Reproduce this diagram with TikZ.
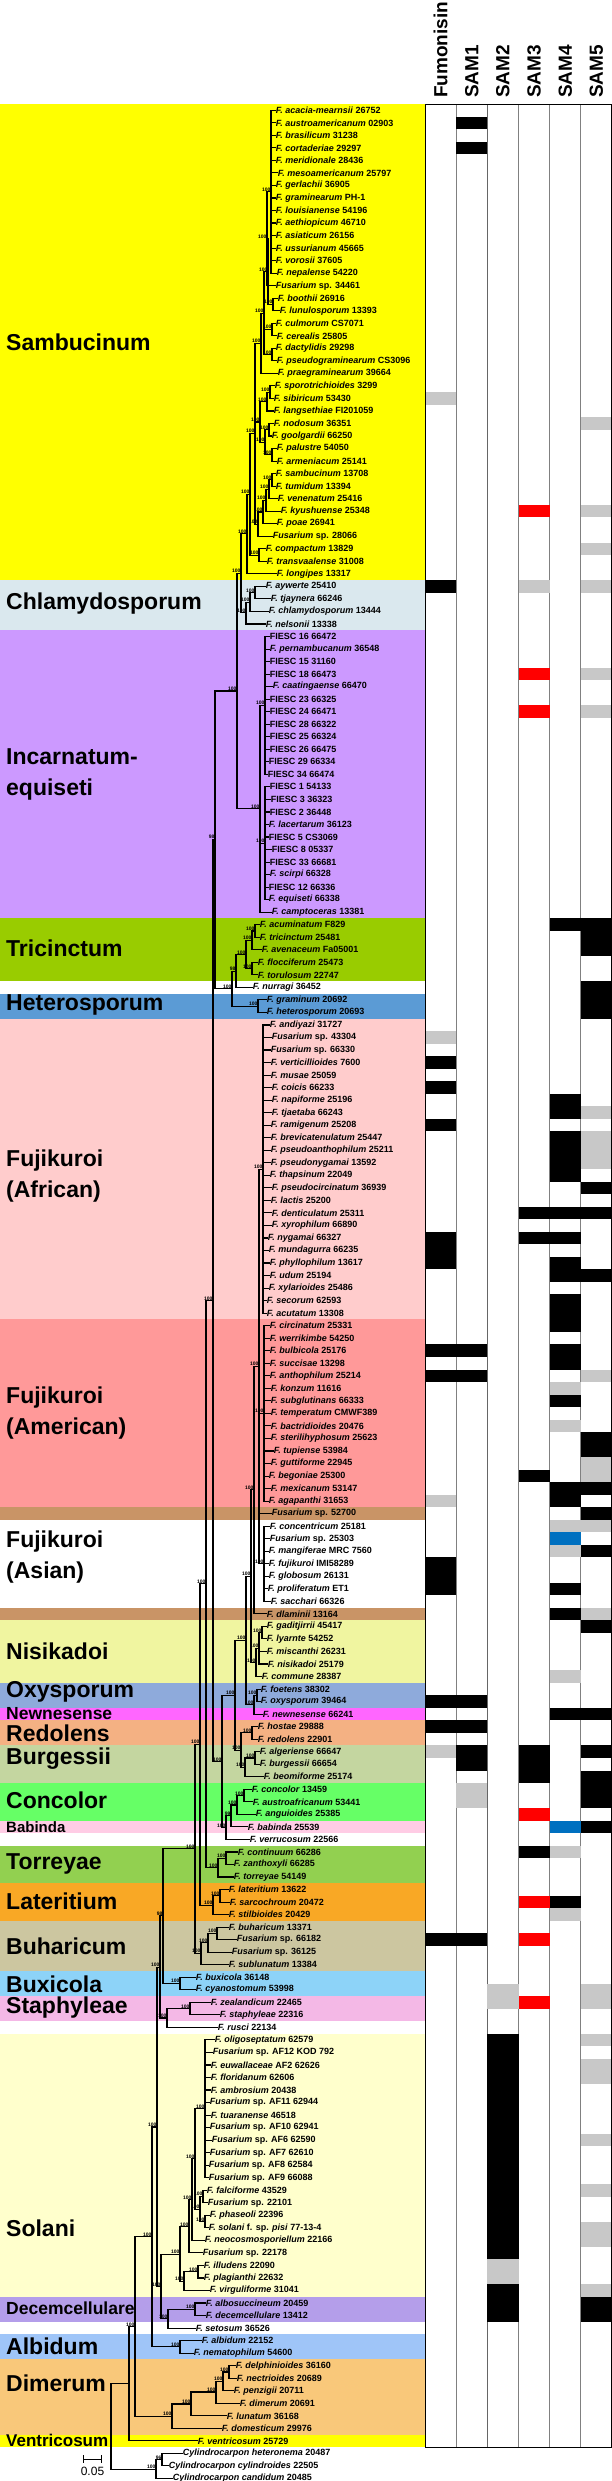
\documentclass[tikz,border=0pt]{standalone}
\usepackage{fontspec}
\setmainfont{Liberation Sans}
\usetikzlibrary{calc}

% clade band colours
\definecolor{samb}{HTML}{FFFF00}
\definecolor{chla}{HTML}{DAE8EE}
\definecolor{inca}{HTML}{CC99FF}
\definecolor{tric}{HTML}{99CC00}
\definecolor{hete}{HTML}{5B9BD5}
\definecolor{afri}{HTML}{FFCCCC}
\definecolor{amer}{HTML}{FF9999}
\definecolor{brwn}{HTML}{C99466}
\definecolor{nisi}{HTML}{F0F5A0}
\definecolor{oxys}{HTML}{8EAADB}
\definecolor{newn}{HTML}{FF66FF}
\definecolor{redo}{HTML}{F4B183}
\definecolor{burg}{HTML}{C4D6A0}
\definecolor{conc}{HTML}{66FF66}
\definecolor{babi}{HTML}{FFCCE5}
\definecolor{torr}{HTML}{92D050}
\definecolor{late}{HTML}{F9A825}
\definecolor{buha}{HTML}{CCC6A0}
\definecolor{buxi}{HTML}{8DD3F8}
\definecolor{stap}{HTML}{F4B8E6}
\definecolor{sola}{HTML}{FFFFCC}
\definecolor{dece}{HTML}{B49EEA}
\definecolor{albi}{HTML}{9FC5F8}
\definecolor{dime}{HTML}{F9C87A}
\definecolor{vent}{HTML}{FFFF00}
% matrix cell colours
\definecolor{gcell}{HTML}{C8C8C8}
\definecolor{rcell}{HTML}{FF0000}
\definecolor{bcell}{HTML}{0070C0}

\newcommand\F[1]{\textit{F. #1}}
\newcommand\Fsp{\textit{Fusarium} sp.}
\newcommand\Cy[1]{\textit{Cylindrocarpon #1}}
% internal node: name, x, row, support
\newcommand\inode[4]{%
  \coordinate (#1) at (#2,{-97.735-12.53*(#3)});
  \node[bs] (#1s) at (#1) {#4};}
\newcommand\kids[2]{\foreach \ch in {#2} \draw[br] (#1) |- (\ch);}
\newcommand\tcomb[3]{\foreach \ch in {#2,...,#3} \draw[br] (#1) |- (t\ch.west);}

\begin{document}
\begin{tikzpicture}[x=1pt,y=1pt,
    br/.style={line width=1.1pt, line cap=rect},
    leaf/.style={anchor=west, inner sep=0.6pt,
      font=\fontsize{9}{10}\selectfont\bfseries},
    bs/.style={anchor=south east, inner sep=0.3pt,
      font=\fontsize{5}{5}\selectfont\bfseries},
    clab/.style={anchor=west, inner sep=0pt, align=left,
      font=\fontsize{23}{31}\selectfont\bfseries},
    hdr/.style={rotate=90, anchor=west, inner sep=0pt,
      font=\fontsize{19}{19}\selectfont\bfseries}]
  \useasboundingbox (0,0) rectangle (612,-2481);
  \fill[white] (0,0) rectangle (612,-2481);

  % clade bands
  \foreach \s/\e/\k in {1/38/samb, 39/42/chla, 43/65/inca, 66/70/tric,
      72/73/hete, 74/97/afri, 98/112/amer, 113/113/brwn, 121/121/brwn,
      122/126/nisi, 127/128/oxys, 129/129/newn, 130/131/redo,
      132/134/burg, 135/137/conc, 138/138/babi, 140/142/torr,
      143/145/late, 146/149/buha, 150/151/buxi, 152/153/stap,
      155/175/sola, 176/177/dece, 179/180/albi, 181/186/dime, 187/187/vent}
    \fill[\k] (0,{-104-(\s-1)*12.53}) rectangle (425,{-104-\e*12.53});

  % matrix grid
  \foreach \i in {1,...,5}
    \draw[gray, line width=0.8pt] ({425+\i*31.17},-104) -- ({425+\i*31.17},-2447);
  \draw[gray!80!black, line width=1.2pt] ({425+2*31.17},-104) -- ({425+2*31.17},-2447);

  % matrix cells: first row / last row / column / colour
  \foreach \a/\b/\c/\k in {2/2/1/black, 4/4/1/black,
      24/24/0/gcell, 26/26/5/gcell, 33/33/3/rcell, 33/33/5/gcell, 36/36/5/gcell,
      39/39/0/black, 39/39/3/gcell, 39/39/5/gcell,
      46/46/3/rcell, 46/46/5/gcell, 49/49/3/rcell, 49/49/5/gcell,
      66/66/4/black, 66/68/5/black, 71/73/5/black,
      75/75/0/gcell, 77/77/0/black, 79/79/0/black, 80/81/4/black, 81/81/5/gcell,
      82/82/0/black, 83/86/4/black, 83/85/5/gcell, 87/87/5/black,
      89/89/3/black, 89/89/4/black, 89/89/5/black,
      91/93/0/black, 91/91/3/black, 91/91/4/black, 93/94/4/black, 94/94/5/black,
      96/98/4/black, 100/100/0/black, 100/100/1/black, 100/101/4/black,
      102/102/0/black, 102/102/1/black, 102/102/5/gcell,
      103/103/4/gcell, 104/104/4/black, 106/106/4/gcell, 107/108/5/black,
      109/110/5/gcell, 110/110/3/black, 111/112/4/black, 111/111/5/black,
      112/112/0/gcell, 113/113/5/black, 114/114/4/gcell, 114/114/5/gcell,
      115/115/4/bcell, 116/116/4/gcell, 116/116/5/black, 117/119/0/black,
      119/119/4/black, 121/121/4/black, 121/121/5/gcell, 122/122/5/black,
      126/126/4/gcell, 128/128/0/black, 128/128/1/black, 129/129/4/black,
      129/129/5/black, 130/130/0/black, 130/130/1/black, 132/132/0/gcell,
      132/133/1/black, 132/134/3/black, 132/132/5/black, 134/136/5/black,
      135/136/1/gcell, 137/137/3/rcell, 138/138/4/bcell, 138/138/5/black,
      140/140/3/black, 140/140/4/gcell, 144/144/3/rcell, 144/144/4/black,
      145/145/4/gcell, 147/147/0/black, 147/147/1/black, 147/147/3/rcell,
      151/152/2/gcell, 151/152/5/gcell, 152/152/3/rcell,
      155/172/2/black, 155/155/5/gcell, 157/158/5/gcell, 163/163/5/gcell,
      167/167/5/gcell, 170/171/5/gcell, 173/174/2/gcell, 175/177/2/black,
      175/175/5/gcell, 176/177/5/black}
    \fill[\k] ({425+\c*31.17},{-104-(\a-1)*12.53})
      rectangle ({425+(\c+1)*31.17},{-104-\b*12.53});
  \draw[line width=1pt] (425,-104) rectangle (611.5,-2447);

  % column headers
  \foreach \n [count=\i from 0] in {Fumonisin,SAM1,SAM2,SAM3,SAM4,SAM5}
    \node[hdr] (h\i) at ({425+(\i+0.5)*31.17},-98) {\n};

  % taxa: tip x / label
  \foreach \x/\t [count=\r] in {
      275/{\F{acacia-mearnsii} 26752}, 275/{\F{austroamericanum} 02903},
      275/{\F{brasilicum} 31238}, 275/{\F{cortaderiae} 29297},
      275/{\F{meridionale} 28436}, 277/{\F{mesoamericanum} 25797},
      275/{\F{gerlachii} 36905}, 275/{\F{graminearum} PH-1},
      275/{\F{louisianense} 54196}, 275/{\F{aethiopicum} 46710},
      275/{\F{asiaticum} 26156}, 275/{\F{ussurianum} 45665},
      275/{\F{vorosii} 37605}, 276/{\F{nepalense} 54220},
      275/{\Fsp{} 34461}, 277/{\F{boothii} 26916},
      279/{\F{lunulosporum} 13393}, 275/{\F{culmorum} CS7071},
      276/{\F{cerealis} 25805}, 275/{\F{dactylidis} 29298},
      276/{\F{pseudograminearum} CS3096}, 277/{\F{praegraminearum} 39664},
      274/{\F{sporotrichioides} 3299}, 273/{\F{sibiricum} 53430},
      273/{\F{langsethiae} FI201059}, 273/{\F{nodosum} 36351},
      271/{\F{goolgardii} 66250}, 276/{\F{palustre} 54050},
      276/{\F{armeniacum} 25141}, 275/{\F{sambucinum} 13708},
      275/{\F{tumidum} 13394}, 277/{\F{venenatum} 25416},
      280/{\F{kyushuense} 25348}, 276/{\F{poae} 26941},
      272/{\Fsp{} 28066}, 265/{\F{compactum} 13829},
      266/{\F{transvaalense} 31008}, 276/{\F{longipes} 13317},
      265/{\F{aywerte} 25410}, 270/{\F{tjaynera} 66246},
      268/{\F{chlamydosporum} 13444}, 265/{\F{nelsonii} 13338},
      269/{FIESC 16 66472}, 269/{\F{pernambucanum} 36548},
      269/{FIESC 15 31160}, 269/{FIESC 18 66473},
      272/{\F{caatingaense} 66470}, 269/{FIESC 23 66325},
      269/{FIESC 24 66471}, 269/{FIESC 28 66322},
      269/{FIESC 25 66324}, 269/{FIESC 26 66475},
      268/{FIESC 29 66334}, 267/{FIESC 34 66474},
      269/{FIESC 1 54133}, 270/{FIESC 3 36323},
      269/{FIESC 2 36448}, 268/{\F{lacertarum} 36123},
      268/{FIESC 5 CS3069}, 271/{FIESC 8 05337},
      269/{FIESC 33 66681}, 269/{\F{scirpi} 66328},
      268/{FIESC 12 66336}, 268/{\F{equiseti} 66338},
      271/{\F{camptoceras} 13381}, 259/{\F{acuminatum} F829},
      259/{\F{tricinctum} 25481}, 261/{\F{avenaceum} Fa05001},
      257/{\F{flocciferum} 25473}, 257/{\F{torulosum} 22747},
      252/{\F{nurragi} 36452}, 266/{\F{graminum} 20692},
      266/{\F{heterosporum} 20693}, 269/{\F{andiyazi} 31727},
      271/{\Fsp{} 43304}, 270/{\Fsp{} 66330},
      270/{\F{verticillioides} 7600}, 270/{\F{musae} 25059},
      271/{\F{coicis} 66233}, 271/{\F{napiforme} 25196},
      271/{\F{tjaetaba} 66243}, 270/{\F{ramigenum} 25208},
      270/{\F{brevicatenulatum} 25447}, 270/{\F{pseudoanthophilum} 25211},
      270/{\F{pseudonygamai} 13592}, 269/{\F{thapsinum} 22049},
      271/{\F{pseudocircinatum} 36939}, 270/{\F{lactis} 25200},
      271/{\F{denticulatum} 25311}, 271/{\F{xyrophilum} 66890},
      267/{\F{nygamai} 66327}, 268/{\F{mundagurra} 66235},
      269/{\F{phyllophilum} 13617}, 269/{\F{udum} 25194},
      268/{\F{xylarioides} 25486}, 266/{\F{secorum} 62593},
      266/{\F{acutatum} 13308}, 269/{\F{circinatum} 25331},
      269/{\F{werrikimbe} 54250}, 269/{\F{bulbicola} 25176},
      269/{\F{succisae} 13298}, 269/{\F{anthophilum} 25214},
      270/{\F{konzum} 11616}, 270/{\F{subglutinans} 66333},
      270/{\F{temperatum} CMWF389}, 270/{\F{bactridioides} 20476},
      270/{\F{sterilihyphosum} 25623}, 273/{\F{tupiense} 53984},
      270/{\F{guttiforme} 22945}, 268/{\F{begoniae} 25300},
      270/{\F{mexicanum} 53147}, 268/{\F{agapanthi} 31653},
      271/{\Fsp{} 52700}, 269/{\F{concentricum} 25181},
      269/{\Fsp{} 25303}, 268/{\F{mangiferae} MRC 7560},
      268/{\F{fujikuroi} IMI58289}, 268/{\F{globosum} 26131},
      267/{\F{proliferatum} ET1}, 270/{\F{sacchari} 66326},
      266/{\F{dlaminii} 13164}, 266/{\F{gaditjirrii} 45417},
      266/{\F{lyarnte} 54252}, 266/{\F{miscanthi} 26231},
      267/{\F{nisikadoi} 25179}, 261/{\F{commune} 28387},
      260/{\F{foetens} 38302}, 260/{\F{oxysporum} 39464},
      262/{\F{newnesense} 66241}, 257/{\F{hostae} 29888},
      257/{\F{redolens} 22901}, 259/{\F{algeriense} 66647},
      259/{\F{burgessii} 66654}, 263/{\F{beomiforme} 25174},
      251/{\F{concolor} 13459}, 252/{\F{austroafricanum} 53441},
      255/{\F{anguioides} 25385}, 247/{\F{babinda} 25539},
      249/{\F{verrucosum} 22566}, 237/{\F{continuum} 66286},
      233/{\F{zanthoxyli} 66285}, 233/{\F{torreyae} 54149},
      228/{\F{lateritium} 13622}, 229/{\F{sarcochroum} 20472},
      228/{\F{stilbioides} 20429}, 228/{\F{buharicum} 13371},
      236/{\Fsp{} 66182}, 231/{\Fsp{} 36125},
      228/{\F{sublunatum} 13384}, 195/{\F{buxicola} 36148},
      195/{\F{cyanostomum} 53998}, 210/{\F{zealandicum} 22465},
      219/{\F{staphyleae} 22316}, 217/{\F{rusci} 22134},
      214/{\F{oligoseptatum} 62579}, 212/{\Fsp{} AF12 KOD 792},
      210/{\F{euwallaceae} AF2 62626}, 210/{\F{floridanum} 62606},
      210/{\F{ambrosium} 20438}, 209/{\Fsp{} AF11 62944},
      210/{\F{tuaranense} 46518}, 209/{\Fsp{} AF10 62941},
      211/{\Fsp{} AF6 62590}, 209/{\Fsp{} AF7 62610},
      208/{\Fsp{} AF8 62584}, 208/{\Fsp{} AF9 66088},
      206/{\F{falciforme} 43529}, 207/{\Fsp{} 22101},
      209/{\F{phaseoli} 22396}, 208/{\F{solani} f. sp. \textit{pisi} 77-13-4},
      204/{\F{neocosmosporiellum} 22166}, 202/{\Fsp{} 22178},
      203/{\F{illudens} 22090}, 203/{\F{plagianthi} 22632},
      209/{\F{virguliforme} 31041}, 205/{\F{albosuccineum} 20459},
      205/{\F{decemcellulare} 13412}, 195/{\F{setosum} 36526},
      201/{\F{albidum} 22152}, 193/{\F{nematophilum} 54600},
      235/{\F{delphinioides} 36160}, 236/{\F{nectrioides} 20689},
      233/{\F{penzigii} 20711}, 239/{\F{dimerum} 20691},
      226/{\F{lunatum} 36168}, 221/{\F{domesticum} 29976},
      197/{\F{ventricosum} 25729}, 182/{\Cy{heteronema} 20487},
      168/{\Cy{cylindroides} 22505}, 172/{\Cy{candidum} 20485}}
    \node[leaf] (t\r) at (\x,{-97.735-12.53*\r}) {\t};

  % Sambucinum
  \inode{A1}{271}{7.5}{100} \tcomb{A1}{1}{14}
  \inode{A2}{267}{11.25}{100} \kids{A2}{A1,t15.west}
  \inode{A3}{273}{16.5}{100} \kids{A3}{t16.west,t17.west}
  \inode{A4}{268}{13.875}{100} \kids{A4}{A2,A3}
  \inode{A5}{272}{18.5}{100} \kids{A5}{t18.west,t19.west}
  \inode{A6}{272}{20.5}{100} \kids{A6}{t20.west,t21.west}
  \inode{A7}{264}{17.19}{100} \kids{A7}{A4,A5,A6}
  \inode{A8}{261}{19.6}{100} \kids{A8}{A7,t22.west}
  \inode{B1}{270}{23.5}{100} \kids{B1}{t23.west,t24.west}
  \inode{B2}{267}{24.25}{100} \kids{B2}{B1,t25.west}
  \inode{B3}{269}{26.5}{100} \kids{B3}{t26.west,t27.west}
  \inode{B4}{272}{28.5}{100} \kids{B4}{t28.west,t29.west}
  \inode{B5}{265}{27.5}{100} \kids{B5}{B3,B4}
  \inode{B6}{260}{25.875}{100} \kids{B6}{B2,B5}
  \inode{C1}{272}{30.5}{100} \kids{C1}{t30.west,t31.west}
  \inode{C2}{269}{31.25}{100} \kids{C2}{C1,t32.west}
  \inode{C3}{266}{32.125}{100} \kids{C3}{C2,t33.west}
  \inode{C4}{263}{33.06}{100} \kids{C4}{C3,t34.west}
  \inode{C5}{258}{34.03}{100} \kids{C5}{C4,t35.west}
  \inode{E1}{255}{26.8}{100} \kids{E1}{A8,B6,C5}
  \inode{D1}{259}{36.5}{100} \kids{D1}{t36.west,t37.west}
  \inode{E2}{250}{31.65}{100} \kids{E2}{E1,D1}
  \inode{E3}{247}{34.8}{100} \kids{E3}{E2,t38.west}
  % Chlamydosporum
  \inode{F1}{255}{39.5}{100} \kids{F1}{t39.west,t40.west}
  \inode{F2}{250}{40.25}{100} \kids{F2}{F1,t41.west}
  \inode{F3}{246}{41.1}{100} \kids{F3}{F2,t42.west}
  \inode{G1}{241}{37.95}{100} \kids{G1}{E3,F3}
  % Incarnatum-equiseti
  \inode{I1}{265}{48.5}{100} \tcomb{I1}{43}{54}
  \inode{I2}{265}{59.5}{100} \tcomb{I2}{55}{64}
  \inode{I0}{260}{56.75}{100} \kids{I0}{I1,I2,t65.west}
  \inode{G2}{237}{47.35}{100} \kids{G2}{G1,I0}
  % Tricinctum and Heterosporum
  \inode{T1}{255}{66.5}{100} \kids{T1}{t66.west,t67.west}
  \inode{T2}{252}{67.25}{100} \kids{T2}{T1,t68.west}
  \inode{T3}{252}{69.5}{100} \kids{T3}{t69.west,t70.west}
  \inode{T4}{246}{68.4}{100} \kids{T4}{T2,T3}
  \inode{T5}{236}{69.7}{98} \kids{T5}{T4,t71.west}
  \inode{Hs}{258}{72.5}{100} \kids{Hs}{t72.west,t73.west}
  \inode{T0}{232}{71.1}{100} \kids{T0}{T5,Hs}
  \inode{G3}{215}{59.2}{98} \kids{G3}{G2,T0}
  % Fujikuroi
  \inode{FA}{263}{85.5}{100} \tcomb{FA}{74}{97}
  \inode{FM}{264}{105}{100} \tcomb{FM}{98}{112}
  \inode{FS}{264}{117}{100} \tcomb{FS}{114}{120}
  \inode{FJ1}{259}{101.25}{100} \kids{FJ1}{FA,FM,t113.west,FS}
  \inode{FJ0}{254}{111.1}{100} \kids{FJ0}{FJ1,t121.west}
  % Nisikadoi, Oxysporum
  \inode{Ni1}{262}{122.5}{100} \kids{Ni1}{t122.west,t123.west}
  \inode{Ni2}{259}{123.75}{100} \kids{Ni2}{Ni1,t124.west,t125.west}
  \inode{Ni0}{256}{124.9}{100} \kids{Ni0}{Ni2,t126.west}
  \inode{FN}{251}{118}{100} \kids{FN}{FJ0,Ni0}
  \inode{Ox1}{257}{127.5}{100} \kids{Ox1}{t127.west,t128.west}
  \inode{Ox0}{254}{128.25}{100} \kids{Ox0}{Ox1,t129.west}
  \inode{Q1}{246}{123.1}{100} \kids{Q1}{FN,Ox0}
  % Redolens, Burgessii
  \inode{R0}{252}{130.5}{100} \kids{R0}{t130.west,t131.west}
  \inode{Bu1}{255}{132.5}{100} \kids{Bu1}{t132.west,t133.west}
  \inode{Bu0}{245}{133.25}{100} \kids{Bu0}{Bu1,t134.west}
  \inode{RB}{241}{131.9}{100} \kids{RB}{R0,Bu0}
  \inode{Q}{235}{127.5}{100} \kids{Q}{Q1,RB}
  % Concolor, Babinda
  \inode{Co1}{244}{135.5}{100} \kids{Co1}{t135.west,t136.west}
  \inode{Co2}{237}{136.25}{100} \kids{Co2}{Co1,t137.west}
  \inode{Co3}{231}{137.1}{99} \kids{Co3}{Co2,t138.west}
  \inode{Co0}{226}{138.06}{100} \kids{Co0}{Co3,t139.west}
  \inode{N}{222}{132.8}{100} \kids{N}{Q,Co0}
  \inode{H1}{213}{96}{100} \kids{H1}{G3,N}
  % Torreyae, Lateritium, Buharicum
  \inode{Tor1}{226}{140.5}{100} \kids{Tor1}{t140.west,t141.west}
  \inode{Tor0}{218}{141.25}{100} \kids{Tor0}{Tor1,t142.west}
  \inode{H2}{206}{118.6}{100} \kids{H2}{H1,Tor0}
  \inode{Lat1}{220}{143.5}{100} \kids{Lat1}{t143.west,t144.west}
  \inode{Lat0}{213}{144.25}{100} \kids{Lat0}{Lat1,t145.west}
  \inode{H3}{200}{131.4}{100} \kids{H3}{H2,Lat0}
  \inode{Buh1}{217}{146.5}{100} \kids{Buh1}{t146.west,t147.west}
  \inode{Buh2}{208}{147.25}{100} \kids{Buh2}{Buh1,t148.west}
  \inode{Buh0}{201}{148.1}{100} \kids{Buh0}{Buh2,t149.west}
  \inode{H4}{195}{139.75}{100} \kids{H4}{H3,Buh0}
  % Buxicola, Staphyleae
  \inode{Bux0}{180}{150.5}{100} \kids{Bux0}{t150.west,t151.west}
  \inode{H5}{163}{145.1}{98} \kids{H5}{H4,Bux0}
  \inode{Sta1}{190}{152.5}{100} \kids{Sta1}{t152.west,t153.west}
  \inode{Sta0}{167}{153.25}{100} \kids{Sta0}{Sta1,t154.west}
  \inode{H6}{160}{149.2}{100} \kids{H6}{H5,Sta0}
  % Solani, Decemcellulare
  \inode{So1}{205}{160.5}{100} \tcomb{So1}{155}{166}
  \inode{So2}{203}{167.5}{100} \kids{So2}{t167.west,t168.west}
  \inode{So3}{205}{169.5}{100} \kids{So3}{t169.west,t170.west}
  \inode{So4}{200}{168.5}{100} \kids{So4}{So2,So3}
  \inode{So5}{195}{164.5}{100} \kids{So5}{So1,So4}
  \inode{So6}{192}{167.75}{100} \kids{So6}{So5,t171.west}
  \inode{So7}{189}{169.9}{100} \kids{So7}{So6,t172.west}
  \inode{So8}{198}{173.5}{100} \kids{So8}{t173.west,t174.west}
  \inode{So9}{184}{174.25}{100} \kids{So9}{So8,t175.west}
  \inode{Sol0}{180}{172.1}{100} \kids{Sol0}{So7,So9}
  \inode{Dc1}{195}{176.5}{100} \kids{Dc1}{t176.west,t177.west}
  \inode{Dc0}{168}{177.25}{100} \kids{Dc0}{Dc1,t178.west}
  \inode{X}{161}{174.7}{100} \kids{X}{Sol0,Dc0}
  \inode{H7}{157}{161.95}{100} \kids{H7}{H6,X}
  % Albidum
  \inode{Alb0}{180}{179.5}{100} \kids{Alb0}{t179.west,t180.west}
  \inode{H8}{152}{170.7}{100} \kids{H8}{H7,Alb0}
  % Dimerum
  \inode{Dm1}{229}{181.5}{100} \kids{Dm1}{t181.west,t182.west}
  \inode{Dm2}{223}{182.25}{100} \kids{Dm2}{Dm1,t183.west}
  \inode{Dm3}{216}{183.1}{100} \kids{Dm3}{Dm2,t184.west}
  \inode{Dm4}{191}{184.06}{100} \kids{Dm4}{Dm3,t185.west}
  \inode{D0}{172}{185.03}{100} \kids{D0}{Dm4,t186.west}
  \inode{J}{135}{177.9}{100} \kids{J}{H8,D0}
  \inode{Ing}{129}{182.4}{} \kids{Ing}{J,t187.west}
  % outgroup and root
  \inode{O1}{162}{188.5}{96} \kids{O1}{t188.west,t189.west}
  \inode{O0}{156}{189.25}{100} \kids{O0}{O1,t190.west}
  \inode{Root}{111}{185.8}{} \kids{Root}{Ing,O0}

  % clade names
  \node[clab] (cSamb) at (6,-342) {Sambucinum};
  \node[clab] (cChla) at (6,-604) {Chlamydosporum};
  \node[clab] (cInca) at (6,-774) {Incarnatum-\\equiseti};
  \node[clab] (cTric) at (6,-948) {Tricinctum};
  \node[clab] (cHete) at (6,-1005) {Heterosporum};
  \node[clab] (cAfri) at (6,-1176) {Fujikuroi\\(African)};
  \node[clab] (cAmer) at (6,-1413) {Fujikuroi\\(American)};
  \node[clab] (cAsia) at (6,-1557) {Fujikuroi\\(Asian)};
  \node[clab] (cNisi) at (6,-1651) {Nisikadoi};
  \node[clab] (cOxys) at (6,-1692) {Oxysporum};
  \node[clab, font=\fontsize{17.5}{18}\selectfont\bfseries] (cNewn) at (6,-1714) {Newnesense};
  \node[clab] (cRedo) at (6,-1733) {Redolens};
  \node[clab] (cBurg) at (6,-1759) {Burgessii};
  \node[clab] (cConc) at (6,-1800) {Concolor};
  \node[clab, font=\fontsize{15}{16}\selectfont\bfseries] (cBabi) at (6,-1827) {Babinda};
  \node[clab] (cTorr) at (6,-1864) {Torreyae};
  \node[clab] (cLate) at (6,-1901) {Lateritium};
  \node[clab] (cBuha) at (6,-1946) {Buharicum};
  \node[clab] (cBuxi) at (6,-1984) {Buxicola};
  \node[clab] (cStap) at (6,-2008) {Staphyleae};
  \node[clab] (cSola) at (6,-2228) {Solani};
  \node[clab, font=\fontsize{17.5}{18}\selectfont\bfseries] (cDece) at (6,-2308) {Decemcellulare};
  \node[clab] (cAlbi) at (6,-2346) {Albidum};
  \node[clab] (cDime) at (6,-2383) {Dimerum};
  \node[clab, font=\fontsize{17}{18}\selectfont\bfseries] (cVent) at (6,-2440) {Ventricosum};

  % scale bar
  \coordinate (sbL) at (83,-2459);
  \coordinate (sbR) at (102,-2459);
  \draw[line width=1pt, |-|] (sbL) -- (sbR);
  \node[font=\fontsize{12}{12}\selectfont] (sbT) at (92.5,-2471) {0.05};
\end{tikzpicture}
\end{document}
